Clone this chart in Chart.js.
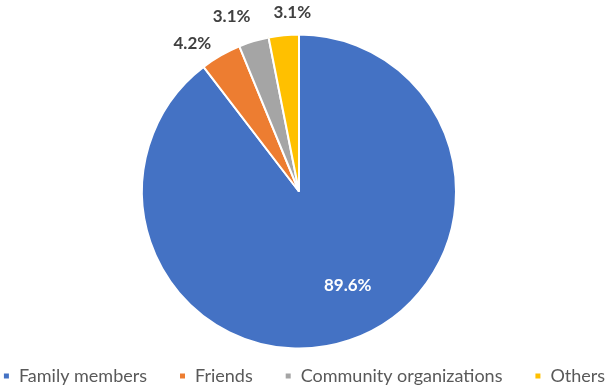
<!DOCTYPE html>
<html>
<head>
<meta charset="utf-8">
<script src="https://cdn.jsdelivr.net/npm/chart.js@4"></script>
<style>
  html, body { margin: 0; padding: 0; background: #fff; }
</style>
</head>
<body>
<canvas id="sourceChart" width="605" height="391"></canvas>
<script>
const categories = ['Family members', 'Friends', 'Community organizations', 'Others'];
const shares = [89.6, 4.2, 3.1, 3.1];
const sliceColors = ['#4472C4', '#ED7D31', '#A5A5A5', '#FFC000'];

// percentage labels: first one sits inside the big slice, the rest outside
const pieLabels = {
  id: 'pieLabels',
  afterDatasetsDraw(chart, args, opts) {
    const { ctx } = chart;
    const arcs = chart.getDatasetMeta(0).data;
    ctx.save();
    ctx.font = 'bold 17px Lato';
    ctx.textAlign = 'center';
    ctx.textBaseline = 'middle';
    arcs.forEach((arc, i) => {
      const mid = (arc.startAngle + arc.endAngle) / 2;
      const inside = i === 0;
      const dist = inside ? arc.outerRadius * 0.67 : arc.outerRadius + 25;
      const nudge = opts.nudge[i] || [0, 0];
      const x = arc.x + Math.cos(mid) * dist + nudge[0];
      const y = arc.y + Math.sin(mid) * dist + nudge[1];
      ctx.fillStyle = inside ? '#ffffff' : '#404040';
      ctx.fillText(shares[i].toFixed(1) + '%', x, y);
    });
    ctx.restore();
  }
};

// move the plot area sideways a little (layout clamps negative side padding)
const areaShift = {
  id: 'areaShift',
  afterLayout(chart, args, opts) {
    chart.chartArea.left += opts.dx;
    chart.chartArea.right += opts.dx;
  }
};

const ctx = document.getElementById('sourceChart').getContext('2d');
const chart = new Chart(ctx, {
  type: 'pie',
  data: {
    labels: categories,
    datasets: [{
      data: shares,
      backgroundColor: sliceColors,
      borderColor: '#ffffff',
      borderWidth: 2
    }]
  },
  options: {
    responsive: false,
    animation: false,
    devicePixelRatio: 1,
    radius: 157,
    // wide negative side padding keeps the legend on a single row
    layout: { padding: { top: 48, bottom: -4, left: -35, right: -38 } },
    plugins: {
      tooltip: { enabled: false },
      legend: {
        position: 'bottom',
        labels: {
          boxWidth: 7,
          boxHeight: 7,
          padding: 32,
          color: '#595959',
          font: { family: 'Lato', size: 18 }
        }
      },
      areaShift: { dx: -3.5 },
      pieLabels: { nudge: [[15, -6], [-16, 10], [-15, -1], [11, 2]] }
    }
  },
  plugins: [areaShift, pieLabels]
});
</script>
</body>
</html>
